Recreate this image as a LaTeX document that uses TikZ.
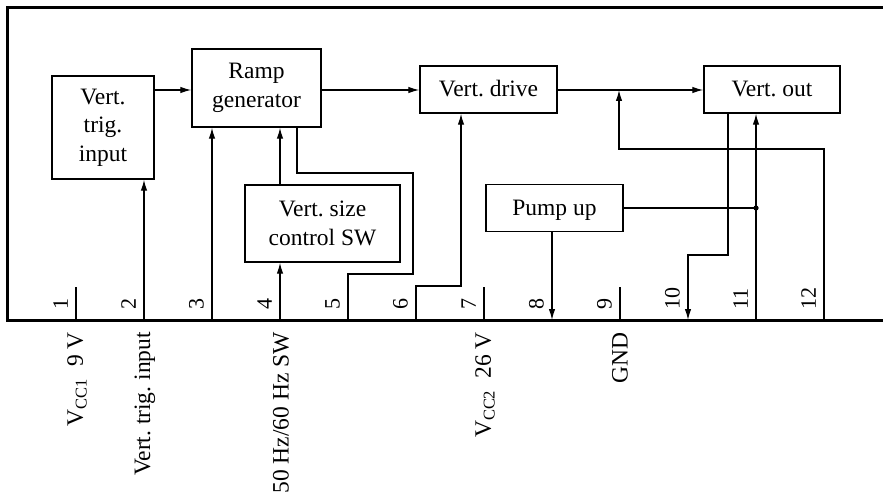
\documentclass[tikz,border=0pt]{standalone}
\usepackage{fontspec}
\setmainfont{Liberation Serif}
\usetikzlibrary{arrows.meta}
\begin{document}
\frenchspacing
\begin{tikzpicture}[x=1pt,y=-1pt,
  blk/.style={draw, line width=1.4pt, inner sep=0pt, align=center, font=\fontsize{23.5}{28.5}\selectfont},
  oneline/.style={text height=17pt, text depth=2pt},
  wire/.style={line width=1.2pt},
  arr/.style={wire, -{Latex[length=11pt,width=6.5pt]}},
  pinnum/.style={rotate=90, anchor=south west, inner sep=0pt, font=\fontsize{22}{24}\selectfont},
  pinlab/.style={rotate=90, anchor=east, inner sep=0pt, font=\fontsize{23.5}{26}\selectfont},
  frame/.style={line width=3pt, line join=miter}]
\useasboundingbox (0,0) rectangle (883,497);

% pins
\foreach \i in {1,...,12} \coordinate (p\i) at ({76+68*(\i-1)},320);
\coordinate (ly) at (0,90);

% blocks
\node[blk, minimum width=102pt, minimum height=103pt] (vti) at (103,127.5) {Vert.\\trig.\\input};
\node[blk, minimum width=129pt, minimum height=78pt] (ramp) at (256.5,88) {Ramp\\generator};
\node[blk, minimum width=155pt, minimum height=77pt] (vsc) at (322.5,223.5) {Vert. size\\control SW};
\node[blk, oneline, minimum width=137pt, minimum height=47pt] (drive) at (488.5,89.5) {Vert. drive};
\node[blk, oneline, minimum width=136pt, minimum height=47pt] (out) at (772,89.5) {Vert. out};
\node[blk, oneline, minimum width=137pt, minimum height=47pt] (pump) at (554.5,208) {Pump up};

% horizontal signal chain
\draw[arr] (vti.east |- ly) -- (ramp.west |- ly);
\draw[arr] (ramp.east |- ly) -- (drive.west |- ly);
\draw[arr] (drive.east |- ly) -- (out.west |- ly);

% pin connections
\draw[wire] (p1) -- ++(0,-33);
\draw[wire] (p7) -- ++(0,-33);
\draw[wire] (p9) -- ++(0,-33);
\draw[arr] (p2) -- (p2 |- vti.south);
\draw[arr] (p3) -- (p3 |- ramp.south);
\draw[arr] (p4) -- (p4 |- vsc.south);
\draw[arr] (p4 |- vsc.north) -- (p4 |- ramp.south);
\draw[wire] (ramp.south -| 297,0) |- (413,173) |- (p5 |- 0,274) -- (p5);
\draw[arr] (p6) |- (461,286) -- (drive.south -| 461,0);
\draw[arr] (p8 |- pump.south) -- (p8);
\draw[arr] (out.south -| 728,0) |- (p10 |- 0,255) -- (p10);
\draw[arr] (p11) -- (p11 |- out.south);
\coordinate (dot) at (p11 |- pump.east);
\fill (dot) circle (2.6pt);
\draw[wire] (pump.east) -- (dot);
\coordinate (j12) at (619,90);
\draw[arr] (p12) -- (p12 |- 0,149) -| (j12);

% frame
\draw[frame] (883,8) -- (7,8) -- (7,320) -- (883,320);

% pin numbers
\foreach \i in {1,...,12} \node[pinnum] (n\i) at ({68+68*(\i-1)},310) {\i};

% pin labels
\node[pinlab] (l1) at (77,332) {V\textsubscript{CC1}\ \ 9 V};
\node[pinlab] (l2) at (145,332) {Vert. trig. input};
\node[pinlab] (l4) at (281,332) {50 Hz/60 Hz SW};
\node[pinlab] (l7) at (485,332) {V\textsubscript{CC2}\ \ 26 V};
\node[pinlab] (l9) at (620,332) {GND};
\end{tikzpicture}
\end{document}
